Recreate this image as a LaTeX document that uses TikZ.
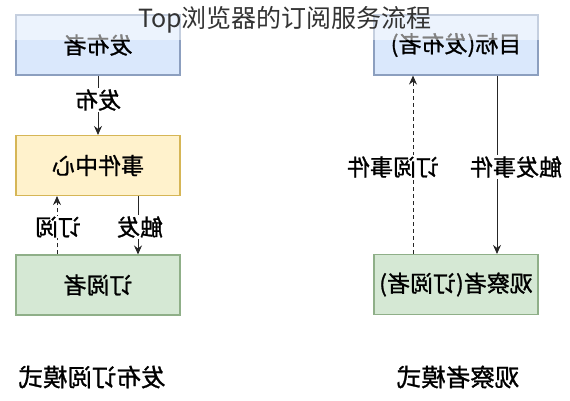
\documentclass[tikz,border=0pt]{standalone}
\usepackage{fontspec}
\usepackage{graphicx}
\setmainfont{Noto Sans CJK SC}
\newfontfamily\heavycjk[FakeBold=1]{Noto Sans CJK SC}
\usetikzlibrary{arrows.meta}
\definecolor{bluefill}{HTML}{DAE8FC}
\definecolor{blueline}{HTML}{8C9FBF}
\definecolor{yellowfill}{HTML}{FFF2CC}
\definecolor{yellowline}{HTML}{D6B656}
\definecolor{greenfill}{HTML}{D5E8D4}
\definecolor{greenline}{HTML}{8FAF88}
\tikzset{
  box/.style={draw, line width=1.1pt, minimum width=164pt, minimum height=60pt, inner sep=0pt, font=\heavycjk\fontsize{23}{26}\selectfont},
  bluebox/.style={box, fill=bluefill, draw=blueline},
  yellowbox/.style={box, fill=yellowfill, draw=yellowline},
  greenbox/.style={box, fill=greenfill, draw=greenline},
  lbl/.style={fill=white, inner sep=1pt, font=\heavycjk\fontsize{23}{26}\selectfont},
  captext/.style={inner sep=0pt, font=\heavycjk\fontsize{24.5}{27}\selectfont},
  solidarrow/.style={draw=black!85, line width=1pt, -{Stealth[length=9pt,width=8pt]}},
  dasharrow/.style={draw=black!85, line width=1pt, dash pattern=on 4pt off 3pt, -{Stealth[length=9pt,width=8pt]}},
}
\newcommand{\mirr}[1]{\reflectbox{#1}}
\begin{document}
\begin{tikzpicture}[x=1pt,y=-1pt]
\useasboundingbox (0,0) rectangle (570,400);
% left column
\node[bluebox]   (pub) at (98,45)    {\mirr{发布者}};
\node[yellowbox] (ec)  at (98,165.5) {\mirr{事件中心}};
\node[greenbox]  (sub) at (98,285)   {\mirr{订阅者}};
% right column
\node[bluebox]   (tgt) at (456,45)   {\mirr{目标(发布者)}};
\node[greenbox]  (obs) at (456,284.5){\mirr{观察者(订阅者)}};
% x positions of vertical connectors
\coordinate (xl1) at (57,0);
\coordinate (xl2) at (138,0);
\coordinate (xr1) at (413,0);
\coordinate (xr2) at (497,0);
% left connectors
\draw[solidarrow] (pub.south) -- (ec.north);
\node[lbl] (lpub) at (98,100) {\mirr{发布}};
\draw[dasharrow] (sub.north -| xl1) -- (ec.south -| xl1);
\draw[solidarrow] (ec.south -| xl2) -- (sub.north -| xl2);
\node[lbl] (lsub) at (58,227) {\mirr{订阅}};
\node[lbl] (ltrg) at (140,227) {\mirr{触发}};
% right connectors
\draw[dasharrow] (obs.north -| xr1) -- (tgt.south -| xr1);
\draw[solidarrow] (tgt.south -| xr2) -- (obs.north -| xr2);
\node[lbl] (rsub) at (393,167) {\mirr{订阅事件}};
\node[lbl] (rtrg) at (516,167) {\mirr{触发事件}};
% captions
\node[captext] (c1) at (92,377) {\mirr{发布订阅模式}};
\node[captext] (c2) at (458,377) {\mirr{观察者模式}};
% title band
\fill[white, opacity=0.5] (0,0) rectangle (570,40);
\node[inner sep=0pt, text=black!80, font=\fontsize{25}{28}\selectfont] (title) at (285,20) {Top浏览器的订阅服务流程};
\end{tikzpicture}
\end{document}
